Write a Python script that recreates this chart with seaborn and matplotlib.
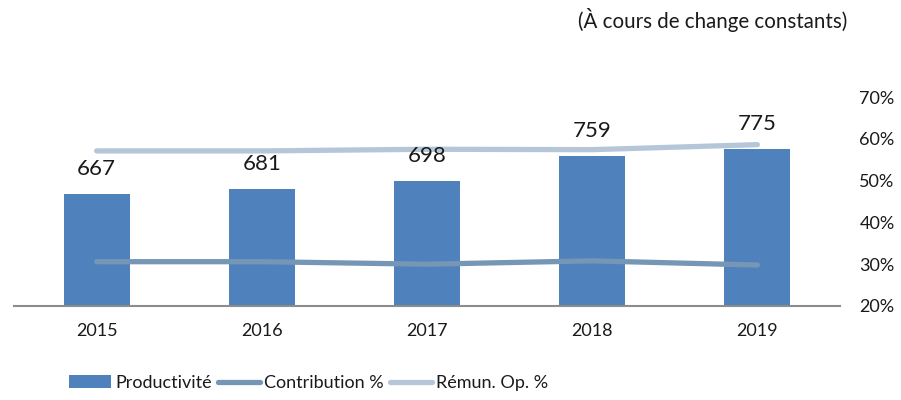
import matplotlib
matplotlib.use("Agg")
import matplotlib.pyplot as plt
import seaborn as sns
import pandas as pd
from matplotlib.patches import Patch
from matplotlib.lines import Line2D
from matplotlib.ticker import PercentFormatter

years = ["2015", "2016", "2017", "2018", "2019"]
productivite = [667, 681, 698, 759, 775]
contribution = [30.6, 30.6, 30.0, 30.8, 29.8]
remun = [57.1, 57.1, 57.5, 57.4, 58.6]
right_ticks = [20, 30, 40, 50, 60, 70]

sns.set_theme(style="white")
plt.rcParams["font.family"] = ["Lato", "DejaVu Sans"]

BAR = "#4f81bd"
C_CONTRIB = "#7596b5"
C_REMUN = "#b5c6d8"
TXT = "#1a1a1a"

fig = plt.figure(figsize=(9.01, 4.00), dpi=100)
ax = fig.add_axes([14 / 901, 1 - 306 / 400, (840 - 14) / 901, (306 - 97) / 400])

df = pd.DataFrame({"year": years, "prod": productivite})
sns.barplot(data=df, x="year", y="prod", ax=ax, color=BAR, width=0.4,
            saturation=1, edgecolor="none")
ax.set_ylim(400, 900)
ax.set_xlim(-0.5, 4.5)
ax.set_xlabel("")
ax.set_ylabel("")
ax.set_yticks([])
for s in ["top", "left", "right"]:
    ax.spines[s].set_visible(False)
ax.spines["bottom"].set_color("#8c8c8c")
ax.spines["bottom"].set_linewidth(1.5)
ax.tick_params(axis="x", length=0, pad=12, labelsize=13, labelcolor=TXT)

ax2 = ax.twinx()
ldf = pd.DataFrame({"x": list(range(len(years))), "contrib": contribution, "remun": remun})
sns.lineplot(data=ldf, x="x", y="contrib", ax=ax2, color=C_CONTRIB, linewidth=3.8,
             solid_capstyle="round")
sns.lineplot(data=ldf, x="x", y="remun", ax=ax2, color=C_REMUN, linewidth=3.8,
             solid_capstyle="round")
ax2.set_ylim(20, 70)
ax2.set_xlim(-0.5, 4.5)
ax2.set_yticks(right_ticks)
ax2.yaxis.set_major_formatter(PercentFormatter(decimals=0))
ax2.set_xlabel("")
ax2.set_ylabel("")
ax2.tick_params(axis="y", length=0, pad=14, labelsize=13, labelcolor=TXT)
for s in ["top", "left", "right", "bottom"]:
    ax2.spines[s].set_visible(False)
for lab in ax2.get_yticklabels():
    lab.set_horizontalalignment("left")

for i, v in enumerate(productivite):
    ax2.annotate(str(v), xy=(i, v), xycoords=ax.transData, xytext=(0, 13.7),
                 textcoords="offset points", ha="center", va="baseline",
                 fontsize=16, color=TXT, zorder=10)

handles = [
    Patch(facecolor=BAR, edgecolor="none"),
    Line2D([0], [0], color=C_CONTRIB, linewidth=3.8),
    Line2D([0], [0], color=C_REMUN, linewidth=3.8),
]
labels = ["Productivité", "Contribution %", "Rémun. Op. %"]
fig.legend(handles, labels, loc="center left", bbox_to_anchor=(53 / 901, 1 - 383 / 400),
           ncol=3, frameon=False, fontsize=13, handlelength=2.3, handleheight=0.7,
           handletextpad=0.25, columnspacing=0.35, labelcolor=TXT)

fig.text(847 / 901, 1 - 20 / 400, "(À cours de change constants)", ha="right",
         va="center", fontsize=14.8, color=TXT)

fig.savefig("out.png", dpi=100)
